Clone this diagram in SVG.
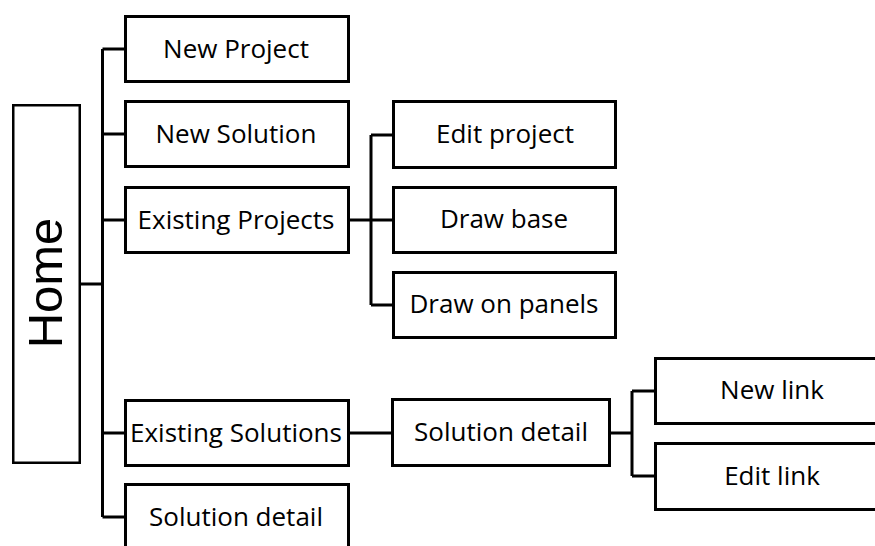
<svg xmlns="http://www.w3.org/2000/svg" width="875" height="546" viewBox="0 0 875 546">
  <style>
    .box { fill: #ffffff; stroke: #000000; stroke-width: 3; }
    .home { fill: #ffffff; stroke: #000000; stroke-width: 2.5; }
    .lbl { font-family: "Open Sans", "Liberation Sans", sans-serif; font-size: 26px; fill: #000000; text-anchor: middle; }
    .homelbl { font-family: "Liberation Sans", Arial, sans-serif; font-size: 49px; fill: #000000; text-anchor: middle; }
    .wire { fill: none; stroke: #000000; stroke-width: 3; }
  </style>
  <rect width="875" height="546" fill="#ffffff"/>

  <g id="connectors">
    <!-- main trunk from Home -->
    <path class="wire" d="M81 284 H102.5 M102.5 49 V517 M102.5 49 H124 M102.5 134 H124 M102.5 220 H124 M102.5 433 H124 M102.5 517 H124"/>
    <!-- Existing Projects branch -->
    <path class="wire" d="M350 220 H392 M371 135 V305 M371 135 H392 M371 305 H392"/>
    <!-- Existing Solutions branch -->
    <path class="wire" d="M350 433 H391"/>
    <!-- Solution detail branch -->
    <path class="wire" d="M611 433 H632 M632 391 V476 M632 391 H654 M632 476 H654"/>
  </g>

  <g id="home">
    <rect class="home" x="13.25" y="105.25" width="66.5" height="357.5"/>
    <text class="homelbl" transform="translate(62 283) rotate(-90)">Home</text>
  </g>

  <g id="new-project">
    <rect class="box" x="125.5" y="16.5" width="223" height="65"/>
    <text class="lbl" x="236" y="57.5">New Project</text>
  </g>
  <g id="new-solution">
    <rect class="box" x="125.5" y="101.5" width="223" height="65"/>
    <text class="lbl" x="236" y="142.5">New Solution</text>
  </g>
  <g id="existing-projects">
    <rect class="box" x="125.5" y="187.5" width="223" height="65"/>
    <text class="lbl" x="236" y="228.5">Existing Projects</text>
  </g>
  <g id="existing-solutions">
    <rect class="box" x="125.5" y="400.5" width="223" height="65"/>
    <text class="lbl" x="236" y="441.5">Existing Solutions</text>
  </g>
  <g id="solution-detail-root">
    <rect class="box" x="125.5" y="484.5" width="223" height="65"/>
    <text class="lbl" x="236" y="525.5">Solution detail</text>
  </g>

  <g id="edit-project">
    <rect class="box" x="393.5" y="101.5" width="222" height="66"/>
    <text class="lbl" x="505" y="142.5">Edit project</text>
  </g>
  <g id="draw-base">
    <rect class="box" x="393.5" y="187.5" width="222" height="65"/>
    <text class="lbl" x="504" y="227.5">Draw base</text>
  </g>
  <g id="draw-on-panels">
    <rect class="box" x="393.5" y="272.5" width="222" height="65"/>
    <text class="lbl" x="504" y="312.5">Draw on panels</text>
  </g>

  <g id="solution-detail">
    <rect class="box" x="392.5" y="399.5" width="217" height="66"/>
    <text class="lbl" x="501" y="440.5">Solution detail</text>
  </g>
  <g id="new-link">
    <rect class="box" x="655.5" y="358.5" width="240" height="65"/>
    <text class="lbl" x="772" y="398.5">New link</text>
  </g>
  <g id="edit-link">
    <rect class="box" x="655.5" y="443.5" width="240" height="66"/>
    <text class="lbl" x="772" y="484.5">Edit link</text>
  </g>
</svg>
